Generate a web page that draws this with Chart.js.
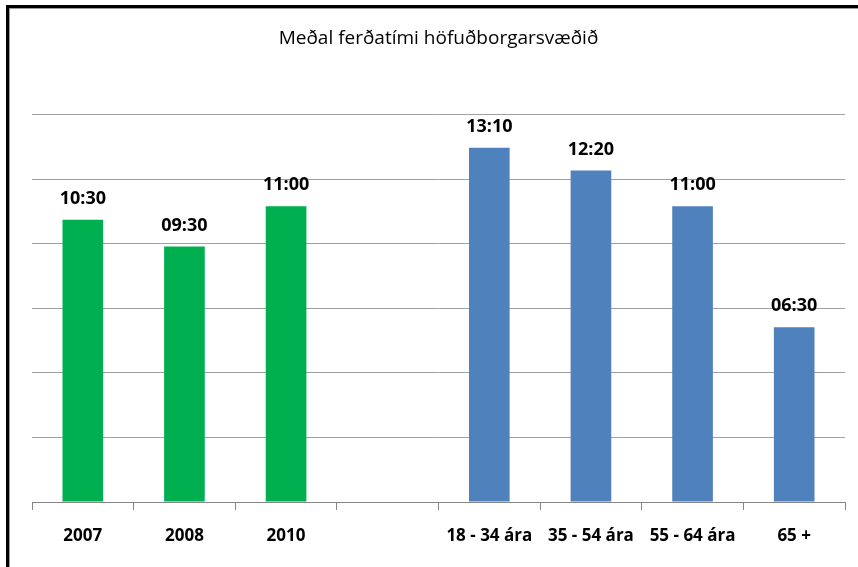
<!DOCTYPE html>
<html>
<head>
<meta charset="utf-8">
<script src="https://cdn.jsdelivr.net/npm/chart.js@4/dist/chart.umd.min.js"></script>
<style>
    html, body { margin: 0; padding: 0; background: #fff; overflow: hidden; }
    #frame { position: absolute; left: 6px; top: 5px; width: 860px; height: 570px;
             border-top: 3px solid #000; border-left: 3px solid #000; }
    #frame-inner { position: absolute; left: 0; top: 0; width: 100%; height: 100%;
                   border-top: 1px solid #9a9a9a; border-left: 1px solid #9a9a9a; }
    #wrap { position: absolute; left: 0; top: 0; width: 858px; height: 567px; }
</style>
</head>
<body>
<div id="frame"><div id="frame-inner"></div></div>
<div id="wrap"><canvas id="myChart"></canvas></div>
<script>
    // minutes (decimal), labels are shown as mm:ss
    const categories = ['2007', '2008', '2010', '', '18 - 34 ára', '35 - 54 ára', '55 - 64 ára', '65 +'];
    const yearValues = [10.5, 9.5, 11.0, null, null, null, null, null];
    const ageValues = [null, null, null, null, 13.17, 12.33, 11.0, 6.5];
    const axisMax = 14.4;
    const axisStep = 2.4;

    function fmtTime(v) {
        let m = Math.floor(v);
        let s = Math.round((v - m) * 60);
        if (s === 60) { m += 1; s = 0; }
        return String(m).padStart(2, '0') + ':' + String(s).padStart(2, '0');
    }

    const valueLabels = {
        id: 'valueLabels',
        afterDatasetsDraw(chart) {
            const ctx = chart.ctx;
            ctx.save();
            ctx.font = 'bold 18px "Open Sans"';
            ctx.fillStyle = '#000';
            ctx.textAlign = 'center';
            ctx.textBaseline = 'middle';
            chart.data.datasets.forEach((ds, i) => {
                const meta = chart.getDatasetMeta(i);
                meta.data.forEach((bar, j) => {
                    const v = ds.data[j];
                    if (v == null) return;
                    ctx.fillText(fmtTime(v), bar.x, bar.y - 21);
                });
            });
            ctx.restore();
        }
    };

    const ctx = document.getElementById('myChart').getContext('2d');
    const chart = new Chart(ctx, {
        type: 'bar',
        data: {
            labels: categories,
            datasets: [{
                data: yearValues,
                backgroundColor: '#00B050',
                categoryPercentage: 1,
                barPercentage: 0.4
            }, {
                data: ageValues,
                backgroundColor: '#4F81BD',
                categoryPercentage: 1,
                barPercentage: 0.4
            }]
        },
        options: {
            responsive: true,
            maintainAspectRatio: false,
            animation: false,
            layout: { padding: { left: 32, right: 13, top: 0, bottom: 0 } },
            plugins: {
                legend: { display: false },
                tooltip: { enabled: false },
                title: {
                    display: true,
                    text: 'Meðal ferðatími höfuðborgarsvæðið',
                    color: '#000',
                    font: { family: '"Open Sans"', size: 19, weight: 'normal' },
                    padding: { top: 27, bottom: 65 }
                }
            },
            scales: {
                x: {
                    stacked: true,
                    grid: {
                        offset: true,
                        drawOnChartArea: false,
                        drawTicks: true,
                        tickLength: 8,
                        color: '#868686'
                    },
                    border: { display: true, color: '#868686' },
                    ticks: {
                        color: '#000',
                        padding: 16,
                        maxRotation: 0,
                        autoSkip: false,
                        font: { family: '"Open Sans"', size: 17, weight: 'bold' }
                    },
                    afterFit(scale) { scale.height = 65; }
                },
                y: {
                    stacked: true,
                    min: 0,
                    max: axisMax,
                    ticks: { display: false, stepSize: axisStep },
                    grid: { drawTicks: false, color: '#a0a0a0' },
                    border: { display: false },
                    afterFit(scale) { scale.width = 0; }
                }
            }
        },
        plugins: [valueLabels]
    });
</script>
</body>
</html>
